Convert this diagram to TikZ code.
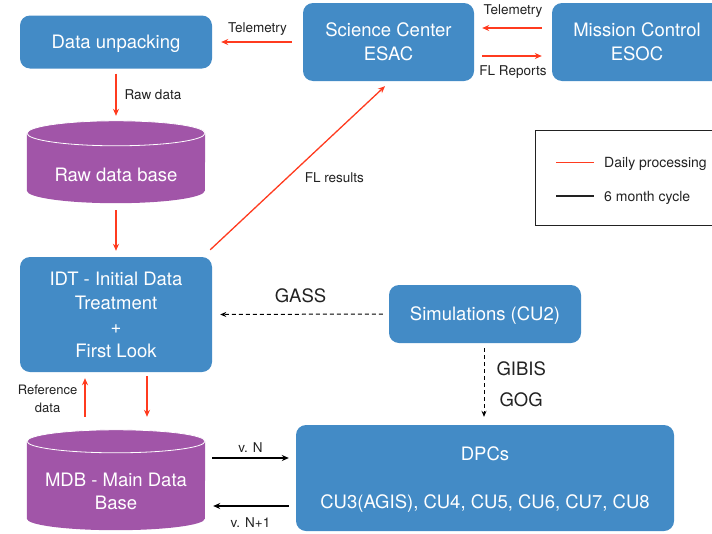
\documentclass[tikz,border=0pt]{standalone}
\usepackage{fontspec}
\setmainfont{TeX Gyre Heros}
\usetikzlibrary{arrows.meta,backgrounds}

\definecolor{boxblue}{HTML}{438BC6}
\definecolor{dbpurple}{HTML}{A155A8}
\definecolor{dailyred}{HTML}{FF3B1F}
\definecolor{labelgray}{HTML}{222222}

\tikzset{
  proc/.style={fill=boxblue, rounded corners=10pt, text=white,
    font=\fontsize{18.5}{24}\selectfont, align=center, inner sep=0pt},
  drum/.style={text=white, font=\fontsize{18.5}{23}\selectfont, align=center,
    inner sep=0pt, minimum width=178pt},
  lbl/.style={text=labelgray, font=\fontsize{13.5}{16}\selectfont, inner sep=0pt},
  leglbl/.style={text=labelgray, font=\fontsize{14}{16}\selectfont, inner sep=0pt,
    anchor=west, text depth=0pt},
  biglbl/.style={text=labelgray, font=\fontsize{18.5}{31}\selectfont, inner sep=0pt},
  daily/.style={draw=dailyred, line width=1.3pt, -{Stealth[length=7pt,width=6pt]}},
  halfyear/.style={draw=black, line width=1.4pt, -{Stealth[length=7pt,width=6pt]}},
  feed/.style={draw=black, line width=1pt, dash pattern=on 4pt off 3pt,
    -{Stealth[length=6pt,width=5pt]}},
}

% database drum drawn around a node: #1 node name, #2 y radius of the ends
\newcommand\drumaround[2]{%
  \fill[dbpurple] ([yshift=#2]#1.north west) -- ([yshift=#2]#1.south west)
    arc[start angle=180, end angle=360, x radius=89pt, y radius=#2]
    -- ([yshift=#2]#1.north east)
    arc[start angle=0, end angle=180, x radius=89pt, y radius=#2] -- cycle;
  \draw[white, line width=0.8pt] ([yshift=#2]#1.north)
    ellipse[x radius=89pt, y radius=#2];
}

\begin{document}
\begin{tikzpicture}[x=1pt, y=1pt]
\useasboundingbox (0,0) rectangle (712,-533);
\clip (0,0) rectangle (712,-533);

% processing boxes
\node[proc, minimum width=192pt, minimum height=53pt, text depth=-1.5pt] (dataun) at (116,-42) {Data unpacking};
\node[proc, minimum width=171pt, minimum height=78pt, text depth=-1pt] (sci) at (388.5,-42) {Science Center\\ESAC};
\node[proc, minimum width=170pt, minimum height=78pt, text depth=-1pt] (mission) at (637,-42) {Mission Control\\ESOC};
\node[proc, minimum width=192pt, minimum height=115pt, text depth=-3pt] (idt) at (116,-314.5)
  {IDT - Initial Data\\Treatment\\+\\First Look};
\node[proc, minimum width=192pt, minimum height=58pt, text depth=-2pt] (sim) at (485,-314) {Simulations (CU2)};
\node[proc, minimum width=378pt, minimum height=106pt, text depth=-3pt] (dpc) at (485,-478)
  {DPCs\\[24pt]CU3(AGIS), CU4, CU5, CU6, CU7, CU8};

% databases
\node[drum, minimum height=57pt] (raw) at (116,-174.5) {Raw data base};
\node[drum, minimum height=77pt, text depth=-4pt] (mdb) at (116,-491.5) {MDB - Main Data\\Base};
\begin{scope}[on background layer]
  \drumaround{raw}{12.5pt}
  \drumaround{mdb}{11.5pt}
\end{scope}

% legend
\node[draw=labelgray, line width=0.8pt, minimum width=195pt, minimum height=95pt,
  inner sep=0pt] (legend) at (632.5,-177.5) {};
\draw[dailyred, line width=1pt] (556,-162) -- (594,-162);
\node[leglbl] (legdaily) at (604,-162) {Daily processing};
\draw[labelgray, line width=1.5pt] (556,-196) -- (594,-196);
\node[leglbl] (leghalf) at (604,-196) {6 month cycle};

% daily flow
\draw[daily, shorten <=11pt, shorten >=9pt] (sci.west) -- (dataun.east)
  node[lbl, midway, above=6pt] {Telemetry};
\draw[daily, shorten <=10pt, shorten >=8pt] ([yshift=14pt]mission.west) -- ([yshift=14pt]sci.east)
  node[lbl, midway, above=9.5pt] {Telemetry};
\draw[daily, shorten <=8pt, shorten >=10pt] ([yshift=-14pt]sci.east) -- ([yshift=-14pt]mission.west)
  node[lbl, midway, below=9pt] {FL Reports};
\draw[daily, shorten <=5pt, shorten >=5pt] (dataun.south) -- ([yshift=25pt]raw.north)
  node[lbl, midway, right=8pt] {Raw data};
\draw[daily, shorten <=7pt, shorten >=6pt] (raw.south) -- (idt.north);
\draw[daily] ([shift={(-2pt,7pt)}]idt.north east) -- ([shift={(-3.5pt,-5pt)}]sci.south)
  node[lbl, pos=0.44, right=17pt] {FL results};
\draw[daily, shorten <=4pt, shorten >=13pt] ([xshift=31pt]idt.south) -- ([xshift=31pt, yshift=23pt]mdb.north);
\draw[daily, shorten <=13pt, shorten >=6pt] ([xshift=-31pt, yshift=23pt]mdb.north) -- ([xshift=-31pt]idt.south)
  node[lbl, midway, left=7pt, yshift=2.5pt, align=center, font=\fontsize{13}{18}\selectfont] {Reference\\data};

% simulation inputs
\draw[feed, shorten <=6pt, shorten >=8pt] (sim.west) -- (idt.east)
  node[biglbl, midway, above=11pt] {GASS};
\draw[feed, shorten <=5pt, shorten >=8pt] ([xshift=-1pt]sim.south) -- ([xshift=-1pt]dpc.north)
  node[biglbl, midway, right=12pt, align=center] {GIBIS\\GOG};

% six-month cycle
\draw[halfyear, shorten <=7pt, shorten >=7pt] ([yshift=33.5pt]mdb.east) -- ([yshift=20pt]dpc.west)
  node[lbl, midway, above=5pt] {v. N};
\draw[halfyear, shorten <=7pt, shorten >=8pt] ([yshift=-28pt]dpc.west) -- ([yshift=-14.5pt]mdb.east)
  node[lbl, midway, below=11pt] {v. N+1};
\end{tikzpicture}
\end{document}
